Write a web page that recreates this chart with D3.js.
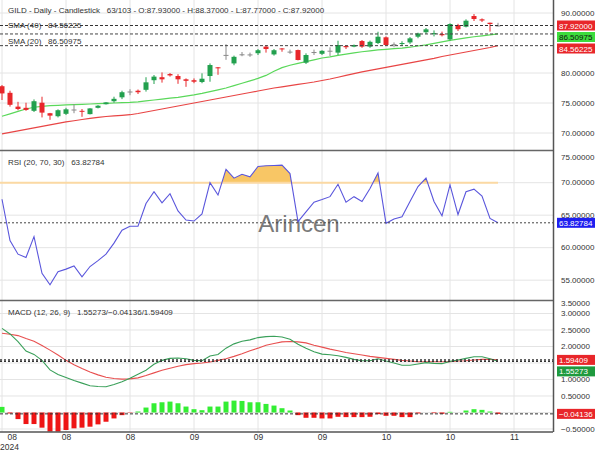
<!DOCTYPE html>
<html><head><meta charset="utf-8">
<script src="https://cdn.jsdelivr.net/npm/d3@7"></script>
<style>
body{margin:0;background:#fff}
text{font-family:"Liberation Sans",Arial,sans-serif;white-space:pre}
</style>
</head><body><svg id="c" width="600" height="450"></svg>
<script>
// ---------- DATA ----------
const opens  = [77.8,76.7,74.4,74.2,73.7,75.05,73.3,72.8,73.2,73.9,73.7,73.15,74.2,74.8,75.3,75.95,76.9,77.05,77.2,78.8,79.3,79.83,79.5,78.95,78.8,78.5,79.5,80.95,83.0,81.6,83.1,83.08,83.3,84.4,83.1,84.1,83.55,83.83,81.72,83.48,83.2,83.7,83.4,84.5,84.4,85.33,84.4,85.0,85.95,84.78,84.85,85.1,86.05,86.8,86.55,86.5,85.6,88.0,87.72,89.5,88.95,88.38,87.93];
const highs  = [78.0,77.05,75.2,75.05,75.6,76.05,73.35,73.95,74.2,74.8,74.0,74.15,74.65,75.15,76.05,77.05,77.3,77.25,79.3,79.67,80.1,80.0,79.8,79.1,79.1,79.95,81.6,81.0,84.8,82.9,83.5,83.4,84.0,84.67,84.0,84.15,83.9,83.9,83.28,83.9,83.8,84.28,85.38,84.6,84.75,85.5,85.4,86.88,86.1,85.1,85.3,86.0,86.72,87.5,87.1,86.9,88.28,88.2,88.95,89.83,89.1,88.4,88.37];
const lows   = [75.5,74.4,73.8,73.7,73.5,72.6,72.2,72.6,73.0,73.3,72.7,73.1,74.1,74.75,75.05,75.65,76.3,76.5,76.9,78.17,78.4,79.4,78.2,77.7,78.3,78.3,78.55,79.7,82.2,81.3,82.8,82.7,83.0,83.4,82.9,83.55,83.2,82.1,81.5,83.0,83.0,82.83,83.0,84.0,84.3,84.2,84.2,84.83,84.5,84.3,84.5,84.85,85.8,86.5,86.1,86.1,85.4,87.0,87.6,88.67,88.5,86.9,87.77];
const closes = [76.6,74.7,74.0,73.85,75.3,73.4,72.9,73.8,73.95,73.92,73.6,74.1,74.55,75.1,75.7,76.8,76.92,76.8,78.45,79.4,78.95,79.6,78.95,78.7,78.55,79.05,81.33,80.8,83.02,82.7,83.12,83.1,83.8,84.0,83.8,83.95,83.57,82.17,83.0,83.5,83.7,83.72,84.67,84.3,84.67,84.4,85.2,86.05,84.67,84.8,85.0,85.78,86.6,87.28,86.65,86.3,88.17,87.3,88.72,89.0,88.75,88.17,87.92];
const sma20  = [72.8,73.2,73.6,74.0,74.3,74.45,74.55,74.62,74.68,74.72,74.78,74.84,74.9,74.95,75.0,75.05,75.1,75.2,75.35,75.5,75.65,75.8,75.95,76.15,76.35,76.6,76.9,77.2,77.5,77.9,78.3,78.7,79.1,79.6,80.3,80.9,81.3,81.6,81.9,82.2,82.5,82.7,82.95,83.15,83.35,83.55,83.7,83.85,83.95,84.05,84.15,84.3,84.5,84.7,84.95,85.2,85.45,85.65,85.85,86.05,86.2,86.35,86.50975];
const sma40  = [69.85,70.1,70.35,70.6,70.85,71.1,71.35,71.6,71.85,72.05,72.25,72.45,72.6,72.75,72.85,72.95,73.05,73.25,73.5,73.75,74.0,74.25,74.5,74.75,75.0,75.25,75.5,75.75,76.0,76.25,76.5,76.75,77.0,77.25,77.5,77.7,77.9,78.1,78.3,78.5,78.75,79.0,79.3,79.6,79.9,80.2,80.45,80.7,80.95,81.2,81.45,81.7,81.95,82.2,82.45,82.75,83.0,83.25,83.5,83.75,84.0,84.25,84.56225];
const rsi    = [67.45,61.1,59.0,58.5,61.7,56.05,54.3,56.3,56.7,57.2,55.5,57.1,58.0,59.0,60.7,62.7,63.3,63.3,66.8,68.6,66.9,68.3,65.65,64.25,64.1,65.2,70.0,68.1,72.05,70.7,71.3,70.9,72.5,72.6,72.65,72.7,71.4,64.0,65.5,67.0,67.4,67.85,69.75,67.0,67.85,67.1,69.1,71.5,63.75,64.4,64.75,67.1,69.4,70.7,67.1,64.9,69.65,65.1,68.6,69.0,67.95,64.5,63.82784];
const macd   = [2.55,2.38,2.15,1.86,1.76,1.58,1.29,1.15,1.06,0.97,0.89,0.81,0.79,0.78,0.85,0.93,1.04,1.16,1.28,1.46,1.58,1.64,1.65,1.63,1.58,1.57,1.71,1.76,1.95,2.08,2.16,2.2,2.27,2.30,2.31,2.29,2.22,2.07,1.95,1.84,1.77,1.75,1.72,1.67,1.61,1.57,1.57,1.63,1.56,1.50,1.43,1.43,1.47,1.51,1.49,1.48,1.55,1.59,1.64,1.69,1.69,1.63,1.55273];
const signal = [2.40,2.37,2.33,2.24,2.16,2.03,1.89,1.74,1.58,1.45,1.33,1.23,1.14,1.07,1.03,1.01,1.02,1.05,1.12,1.20,1.28,1.34,1.40,1.45,1.48,1.50,1.53,1.58,1.63,1.70,1.78,1.87,1.95,2.04,2.09,2.14,2.15,2.14,2.11,2.04,1.98,1.92,1.87,1.82,1.78,1.74,1.70,1.67,1.64,1.61,1.58,1.56,1.54,1.54,1.54,1.54,1.54,1.56,1.57,1.59,1.61,1.61,1.59409];
const hist   = [0.17,-0.03,-0.2,-0.35,-0.35,-0.46,-0.58,-0.58,-0.53,-0.48,-0.46,-0.43,-0.36,-0.28,-0.18,-0.08,-0.01,0.03,0.15,0.28,0.31,0.33,0.28,0.18,0.1,0.07,0.18,0.18,0.33,0.36,0.35,0.31,0.31,0.26,0.21,0.13,0.06,-0.08,-0.16,-0.16,-0.18,-0.18,-0.13,-0.14,-0.14,-0.14,-0.13,-0.05,-0.1,-0.1,-0.14,-0.14,-0.03,0.0,-0.02,-0.04,0.02,0.0,0.06,0.1,0.08,0.03,-0.04136];
const xTickIdx    = [0,8,16,24,32,40,48,56,64];
const xTickLabels = ["08","08","08","09","09","09","10","10","11"];
const yearLabel   = "2024";
const priceTicks  = [90,80,75,70];
const rsiTicks    = [75,70,65,60,55];
const macdTicks   = [3.5,3.0,2.5,2.0,1.0,0.5,-0.5];
const titleText   = "GILD - Daily - Candlestick   63/103 - O:87.93000 - H:88.37000 - L:87.77000 - C:87.92000";

// ---------- LAYOUT ----------
const svg = d3.select("#c");
const W = 553;
const n = closes.length;
const x = d3.scaleLinear().domain([0, 62]).range([2, 498]);
const yP = d3.scaleLinear().domain([67.17, 92.17]).range([150, 0]);
const yR = d3.scaleLinear().domain([51.95, 75.03]).range([300, 150]);
const yM = d3.scaleLinear().domain([-0.591, 3.409]).range([432, 300]);
const fmt = d3.format(".5f");
const GRID = "#e4e4e4";
const GREEN = "#22a04e", RED = "#e8262a";

// grid
const g = svg.append("g");
g.selectAll(".vg").data(xTickIdx).join("line")
  .attr("x1", d => x(d)).attr("x2", d => x(d)).attr("y1", 0).attr("y2", 432)
  .attr("stroke", GRID);
function hgrid(scale, vals){
  g.append("g").selectAll("line").data(vals).join("line")
   .attr("x1", 0).attr("x2", W).attr("y1", d => scale(d)).attr("y2", d => scale(d))
   .attr("stroke", GRID);
}
hgrid(yP, priceTicks);
hgrid(yR, rsiTicks.slice(1));
hgrid(yM, [3.0,2.5,2.0,1.5,1.0,0.5,0,-0.5]);

// watermark
svg.append("text").attr("x", 299).attr("y", 232).attr("text-anchor","middle")
  .attr("font-size", 24).attr("fill", "#7a7a7a").text("Arincen");

// ---------- PRICE PANEL ----------
const lineGen = (sc, arr) => d3.line().x((d,i) => x(i)).y(d => sc(d))(arr);
svg.append("path").attr("d", lineGen(yP, sma40)).attr("fill","none").attr("stroke","#e84545").attr("stroke-width",1.2);
svg.append("path").attr("d", lineGen(yP, sma20)).attr("fill","none").attr("stroke","#5ad85a").attr("stroke-width",1.2);

const idx = d3.range(n);
const col = i => Math.abs(closes[i]-opens[i]) < 0.05 ? "#8a8a8a" : (closes[i] > opens[i] ? GREEN : RED);
const cg = svg.append("g");
cg.selectAll("line").data(idx).join("line")
  .attr("x1", i => x(i)).attr("x2", i => x(i))
  .attr("y1", i => yP(highs[i])).attr("y2", i => yP(lows[i]))
  .attr("stroke", col).attr("stroke-width", 1);
cg.selectAll("rect").data(idx).join("rect")
  .attr("x", i => x(i) - 2.5).attr("width", 5)
  .attr("y", i => yP(Math.max(opens[i], closes[i])))
  .attr("height", i => Math.max(1, yP(Math.min(opens[i], closes[i])) - yP(Math.max(opens[i], closes[i]))))
  .attr("fill", col);

// dashed price lines
function dashed(y, dash, color, w){
  svg.append("line").attr("x1",0).attr("x2",W).attr("y1",y).attr("y2",y)
    .attr("stroke",color).attr("stroke-dasharray",dash).attr("stroke-width",w||1);
}
dashed(yP(closes[n-1]), "3,2", "#333");
dashed(yP(sma20[n-1]), "3,2", "#444");
dashed(yP(sma40[n-1]), "3,2", "#444");

// ---------- RSI PANEL ----------
svg.append("clipPath").attr("id","above70").append("rect")
  .attr("x",0).attr("y",150).attr("width",W).attr("height", yR(70)-150);
svg.append("path")
  .attr("d", d3.area().x((d,i)=>x(i)).y0(yR(70)).y1(d=>yR(d))(rsi))
  .attr("fill","#f8c665").attr("clip-path","url(#above70)");
svg.append("line").attr("x1",0).attr("x2",x(n-1)).attr("y1",yR(70)).attr("y2",yR(70))
  .attr("stroke","#fbd9a3").attr("stroke-width",2);
svg.append("path").attr("d", lineGen(yR, rsi)).attr("fill","none").attr("stroke","#5a56dc").attr("stroke-width",1.1);
dashed(yR(rsi[n-1]), "2,2", "#444");

// ---------- MACD PANEL ----------
svg.append("g").selectAll("rect").data(idx).join("rect")
  .attr("x", i => x(i) - 2.5).attr("width", 5)
  .attr("y", i => Math.min(yM(0), yM(hist[i])))
  .attr("height", i => Math.abs(yM(hist[i]) - yM(0)))
  .attr("fill", i => hist[i] >= 0 ? "#33ee33" : "#ee1515");
svg.append("path").attr("d", lineGen(yM, signal)).attr("fill","none").attr("stroke","#e85050").attr("stroke-width",1.1);
svg.append("path").attr("d", lineGen(yM, macd)).attr("fill","none").attr("stroke","#3aa05a").attr("stroke-width",1.1);
dashed(yM(signal[n-1]), "2,2", "#333", 1.3);
dashed(yM(macd[n-1]), "2,2", "#333", 1.3);
dashed(yM(hist[n-1]), "3,2", "#333");

// ---------- FRAME ----------
svg.append("line").attr("x1",0).attr("x2",W).attr("y1",150.5).attr("y2",150.5).attr("stroke","#666").attr("stroke-width",1.5);
svg.append("line").attr("x1",0).attr("x2",W).attr("y1",300.5).attr("y2",300.5).attr("stroke","#666").attr("stroke-width",1.5);
svg.append("line").attr("x1",0).attr("x2",W).attr("y1",432).attr("y2",432).attr("stroke","#555").attr("stroke-width",1.5);
svg.append("line").attr("x1",W+0.5).attr("x2",W+0.5).attr("y1",0).attr("y2",432).attr("stroke","#555").attr("stroke-width",1.5);

// right axes
function rightAxis(scale, vals, labelY){
  const ag = svg.append("g").attr("transform", `translate(${W},0)`)
    .call(d3.axisRight(scale).tickValues(vals).tickFormat(fmt).tickSize(0).tickPadding(8));
  ag.select(".domain").remove();
  ag.selectAll("text").attr("font-size", 8).attr("fill", "#333")
    .attr("font-family", "'Liberation Sans',Arial,sans-serif");
  if (labelY) ag.selectAll(".tick").attr("transform", d => `translate(0,${labelY(d)})`);
}
rightAxis(yP, priceTicks);
rightAxis(yR, rsiTicks, d => Math.max(157, yR(d)));
rightAxis(yM, macdTicks, d => Math.max(303, yM(d)));

// bottom axis
const bx = svg.append("g").attr("transform","translate(0,432)")
  .call(d3.axisBottom(x).tickValues(xTickIdx).tickFormat((d,i)=>xTickLabels[i]).tickSize(0).tickPadding(2));
bx.select(".domain").remove();
bx.selectAll("text").attr("font-size", 8.5).attr("fill","#333").attr("font-family","'Liberation Sans',Arial,sans-serif");
bx.selectAll(".tick").filter(d => d === 0).select("text").attr("text-anchor","start").attr("x", 5);
svg.append("text").attr("x", 0).attr("y", 449.5).attr("font-size", 8.5).attr("fill","#333").text(yearLabel);

// value boxes
function boxes(items){
  items.sort((a,b)=>a.y-b.y);
  let last = -Infinity;
  items.forEach(it => {
    let c = it.y;
    if (c - 5 < last + 1.5) c = last + 1.5 + 5;
    last = c + 5;
    svg.append("rect").attr("x", 557).attr("y", c-5).attr("width", 38).attr("height", 10).attr("fill", it.bg);
    svg.append("text").attr("x", 559).attr("y", c+3).attr("font-size", 8).attr("fill", it.fg).text(fmt(it.v));
  });
}
boxes([
  {y: yP(closes[n-1]), v: closes[n-1], bg: RED, fg: "#fff"},
  {y: yP(sma20[n-1]), v: sma20[n-1], bg: "#3ddc3d", fg: "#111"},
  {y: yP(sma40[n-1]), v: sma40[n-1], bg: RED, fg: "#fff"}
]);
boxes([{y: yR(rsi[n-1]), v: rsi[n-1], bg: "#1f1ff0", fg: "#fff"}]);
boxes([
  {y: yM(signal[n-1]), v: signal[n-1], bg: RED, fg: "#fff"},
  {y: yM(macd[n-1]), v: macd[n-1], bg: "#1e9a3e", fg: "#fff"},
  {y: yM(hist[n-1]), v: hist[n-1], bg: RED, fg: "#fff"}
]);

// legends
function legend(y, t){ svg.append("text").attr("x", 8).attr("y", y).attr("font-size", 8).attr("fill","#333").text(t); }
legend(13, titleText);
legend(28, "SMA (40)   " + fmt(sma40[n-1]));
legend(44, "SMA (20)   " + fmt(sma20[n-1]));
legend(165, "RSI (20, 70, 30)   " + fmt(rsi[n-1]));
legend(315, "MACD (12, 26, 9)   " + fmt(macd[n-1]) + "/" + fmt(hist[n-1]) + "/" + fmt(signal[n-1]));
</script>
</body></html>
